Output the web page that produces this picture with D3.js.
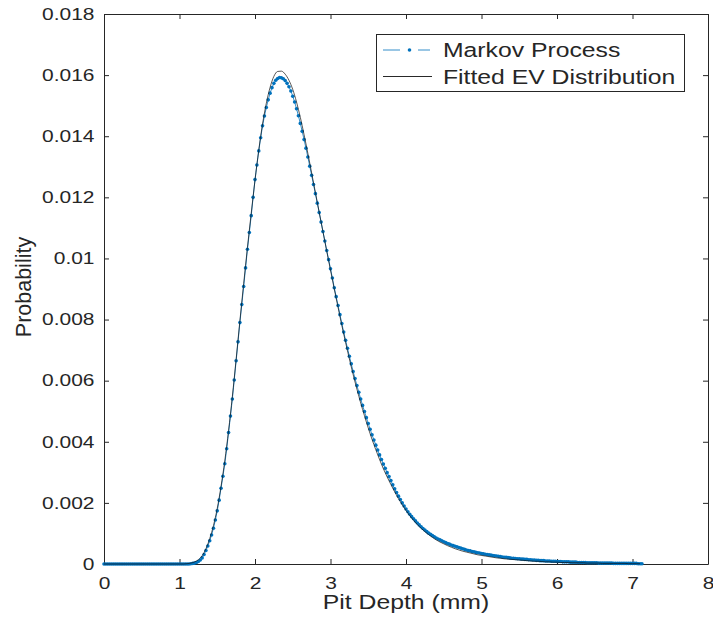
<!DOCTYPE html>
<html>
<head>
<meta charset="utf-8">
<script src="https://cdn.jsdelivr.net/npm/d3@7"></script>
<style>
  body { margin: 0; background: #fff; }
  svg text { font-family: "Liberation Sans", Arial, sans-serif; fill: #262626; }
</style>
</head>
<body>
<svg width="713" height="625"></svg>
<script>
// pit depth grid (mm) for the Markov chain and for the fitted curve
var markovStep = 0.025;
var fitStep = 0.05;

// Markov process probabilities, depth 0 .. 7.125 mm
var markovProb = [
  0, 0, 0, 0, 0, 0, 0, 0, 0, 0, 0, 0, 0, 0, 0, 0, 0, 0, 0, 0, 0, 0,
  0, 0, 0, 0, 0, 0, 0, 0, 0, 0, 0, 0, 0, 0, 0, 0, 0, 0, 0, 0, 0, 0,
  0, 0, 0.00001, 0.00002, 0.00003, 0.00005, 0.00008, 0.00013, 0.00020, 0.00031,
  0.00044, 0.00059, 0.00076, 0.00095, 0.00117, 0.00144, 0.00174, 0.00209, 0.00248, 0.00287,
  0.00328, 0.00377, 0.00430, 0.00484, 0.00540, 0.00602, 0.00665, 0.00727, 0.00790, 0.00849,
  0.00908, 0.00969, 0.01030, 0.01085, 0.01140, 0.01200, 0.01258,
  0.01306, 0.01352, 0.01395, 0.01434, 0.01466, 0.01494, 0.01519, 0.01541, 0.01559, 0.01573,
  0.01583, 0.01589, 0.01592, 0.01591, 0.01588, 0.01582, 0.01573, 0.01562, 0.01548, 0.01531,
  0.01512, 0.01490, 0.01467, 0.01442, 0.01416, 0.01389, 0.01361, 0.01332, 0.01302, 0.01272,
  0.01242, 0.01212, 0.01181, 0.01150, 0.01119, 0.01088, 0.01057, 0.01026, 0.00996, 0.00966,
  0.00936, 0.00904, 0.00875, 0.00846, 0.00816, 0.00787, 0.00759, 0.00732, 0.00706, 0.00680,
  0.00655, 0.00630, 0.00607, 0.00584, 0.00562, 0.00540, 0.00519, 0.00499, 0.00479, 0.00460,
  0.00441, 0.00423, 0.00406, 0.00389, 0.00373, 0.00357, 0.00342, 0.00327, 0.00313, 0.00299,
  0.00286, 0.00273, 0.00259, 0.00246, 0.00234, 0.00222, 0.00211, 0.00200, 0.00190, 0.00180,
  0.00171, 0.00163, 0.00155, 0.00148, 0.00141, 0.00134, 0.00128, 0.00122, 0.00116, 0.00111,
  0.00106, 0.00101, 0.00097, 0.00093, 0.00089, 0.00085, 0.00082, 0.00079, 0.00076, 0.00073,
  0.00070, 0.00067, 0.00065, 0.00062, 0.00060, 0.00058, 0.00056, 0.00054, 0.00052, 0.00050,
  0.00048, 0.00046, 0.00044, 0.00043, 0.00041, 0.00040, 0.00038, 0.00037, 0.00036, 0.00034,
  0.00033, 0.00032, 0.00031, 0.00030, 0.00029, 0.00028, 0.00027, 0.00026, 0.00025, 0.00024,
  0.00023, 0.00022, 0.00022, 0.00021, 0.00020, 0.00019, 0.00019, 0.00018, 0.00017, 0.00017,
  0.00016, 0.00016, 0.00015, 0.00015, 0.00014, 0.00014, 0.00013, 0.00013, 0.00012, 0.00012,
  0.00011, 0.00011, 0.00011, 0.00010, 0.00010, 0.00010, 0.00009, 0.00009, 0.00009, 0.00008,
  0.00008, 0.00008, 0.00007, 0.00007, 0.00007, 0.00007, 0.00006, 0.00006,
  0.00006, 0.00006, 0.00005, 0.00005, 0.00005, 0.00005, 0.00005, 0.00004,
  0.00004, 0.00004, 0.00004, 0.00004, 0.00004, 0.00003, 0.00003, 0.00003,
  0.00003, 0.00003, 0.00003, 0.00003, 0.00003, 0.00002, 0.00002, 0.00002,
  0.00002, 0.00002, 0.00002, 0.00002, 0.00002, 0.00002, 0.00002, 0.00002,
  0.00002, 0.00002, 0.00001, 0.00001, 0.00001
];

// fitted extreme value distribution, depth 0 .. 7.1 mm
var fitProb = [
  0, 0, 0, 0, 0, 0, 0, 0, 0, 0, 0, 0, 0, 0, 0, 0, 0, 0, 0, 0, 0, 0,
  0.00001, 0.00003, 0.00007, 0.00014, 0.00027, 0.00050, 0.00083, 0.00126, 0.00182, 0.00254,
  0.00338, 0.00437, 0.00548, 0.00670, 0.00796, 0.00918, 0.01036, 0.01148, 0.01256,
  0.01355, 0.01440, 0.01508, 0.01560, 0.01596, 0.01612, 0.01613, 0.01603, 0.01583, 0.01553,
  0.01512, 0.01462, 0.01405, 0.01344, 0.01280, 0.01216, 0.01152, 0.01088, 0.01024, 0.00962,
  0.00900, 0.00840, 0.00781, 0.00725, 0.00671, 0.00620, 0.00572, 0.00527, 0.00485, 0.00445,
  0.00408, 0.00374, 0.00342, 0.00312, 0.00285, 0.00260, 0.00236, 0.00214, 0.00194, 0.00175,
  0.00158, 0.00143, 0.00129, 0.00117, 0.00106, 0.00096, 0.00087, 0.00079, 0.00072, 0.00066,
  0.00060, 0.00055, 0.00050, 0.00046, 0.00042, 0.00039, 0.00036, 0.00033, 0.00030, 0.00028,
  0.00026, 0.00024, 0.00022, 0.00020, 0.00019, 0.00017, 0.00016, 0.00015, 0.00014, 0.00013,
  0.00012, 0.00011, 0.00010, 0.00009, 0.00009, 0.00008, 0.00007, 0.00007, 0.00006, 0.00006,
  0.00005, 0.00005, 0.00005, 0.00004, 0.00004, 0.00004, 0.00004, 0.00003, 0.00003, 0.00003,
  0.00003, 0.00002, 0.00002, 0.00002, 0.00002, 0.00002, 0.00002, 0.00002, 0.00001, 0.00001,
  0.00001, 0.00001
];

var xTicks = [0, 1, 2, 3, 4, 5, 6, 7, 8];
var xTickLabels = ["0", "1", "2", "3", "4", "5", "6", "7", "8"];
var yTicks = [0, 0.002, 0.004, 0.006, 0.008, 0.010, 0.012, 0.014, 0.016, 0.018];
var yTickLabels = ["0", "0.002", "0.004", "0.006", "0.008", "0.01", "0.012", "0.014", "0.016", "0.018"];
var seriesNames = ["Markov Process", "Fitted EV Distribution"];

var axisColor = "#262626",
    markovColor = "#0072BD",
    sx = 1.27;                                       // horizontal stretch applied to all text

var svg = d3.select("svg"),
    margin = { top: 14, right: 5, bottom: 61, left: 104 },
    width = +svg.attr("width") - margin.left - margin.right,
    height = +svg.attr("height") - margin.top - margin.bottom,
    g = svg.append("g").attr("transform", "translate(" + margin.left + "," + margin.top + ")");

var x = d3.scaleLinear().domain([0, 8]).range([0, width]);
var y = d3.scaleLinear().domain([0, 0.018]).range([height, 0]);

var markov = markovProb.map(function (p, i) { return { depth: i * markovStep, prob: p }; });
var fitted = fitProb.map(function (p, i) { return { depth: i * fitStep, prob: p }; });

function styleAxis(sel) {
    sel.attr("font-family", null).attr("font-size", null).attr("color", axisColor);
    sel.selectAll("line").attr("stroke", axisColor);
    sel.select(".domain").attr("stroke", axisColor);
}

// bottom axis with labels, ticks pointing inward
var xAxis = g.append("g")
    .attr("transform", "translate(0," + height + ")")
    .call(d3.axisBottom(x).tickValues(xTicks)
        .tickFormat(function (d, i) { return xTickLabels[i]; })
        .tickSize(-5).tickSizeOuter(0).tickPadding(13))
    .call(styleAxis);
xAxis.selectAll("text")
    .style("font-size", "16.5px")
    .attr("transform", "scale(" + sx + ",1)");

// left axis with labels
var yAxis = g.append("g")
    .call(d3.axisLeft(y).tickValues(yTicks)
        .tickFormat(function (d, i) { return yTickLabels[i]; })
        .tickSize(-5).tickSizeOuter(0))
    .call(styleAxis);
yAxis.selectAll("text")
    .style("font-size", "16.5px")
    .attr("x", -9.5 / sx)
    .attr("transform", "scale(" + sx + ",1)");

// top and right axes close the box, ticks only
g.append("g")
    .call(d3.axisTop(x).tickValues(xTicks).tickFormat("").tickSize(-5).tickSizeOuter(0))
    .call(styleAxis);
g.append("g")
    .attr("transform", "translate(" + width + ",0)")
    .call(d3.axisRight(y).tickValues(yTicks).tickFormat("").tickSize(-5).tickSizeOuter(0))
    .call(styleAxis);

var line = d3.line()
    .x(function (d) { return x(d.depth); })
    .y(function (d) { return y(d.prob); });

// Markov process: thin line with dot markers
g.append("path")
    .datum(markov)
    .attr("fill", "none")
    .attr("stroke", markovColor)
    .attr("stroke-width", 0.8)
    .attr("d", line);

g.append("g")
    .selectAll("circle")
    .data(markov)
    .enter().append("circle")
    .attr("cx", function (d) { return x(d.depth); })
    .attr("cy", function (d) { return y(d.prob); })
    .attr("r", 1.8)
    .attr("fill", markovColor);

// fitted EV curve on top
g.append("path")
    .datum(fitted)
    .attr("fill", "none")
    .attr("stroke", "#111")
    .attr("stroke-width", 0.7)
    .attr("stroke-linejoin", "round")
    .attr("d", line.curve(d3.curveMonotoneX));

// legend
var legend = svg.append("g");
legend.append("rect")
    .attr("x", 376.5).attr("y", 34.5)
    .attr("width", 308).attr("height", 57)
    .attr("fill", "#fff")
    .attr("stroke", axisColor)
    .attr("stroke-width", 1);

legend.append("line")
    .attr("x1", 383).attr("x2", 400).attr("y1", 50).attr("y2", 50)
    .attr("stroke", markovColor).attr("stroke-width", 0.8);
legend.append("line")
    .attr("x1", 418).attr("x2", 430).attr("y1", 50).attr("y2", 50)
    .attr("stroke", markovColor).attr("stroke-width", 0.8);
legend.append("circle")
    .attr("cx", 409.5).attr("cy", 50).attr("r", 1.8)
    .attr("fill", markovColor);
legend.append("line")
    .attr("x1", 383).attr("x2", 432).attr("y1", 76.5).attr("y2", 76.5)
    .attr("stroke", "#111").attr("stroke-width", 0.9);

legend.selectAll("text.entry")
    .data(seriesNames)
    .enter().append("text")
    .attr("class", "entry")
    .style("font-size", "19.5px")
    .attr("transform", function (d, i) {
        return "translate(443," + (57.3 + i * 26.7) + ") scale(" + sx + ",1)";
    })
    .text(function (d) { return d; });

// axis titles
svg.append("text")
    .style("font-size", "19.5px")
    .attr("text-anchor", "middle")
    .attr("transform", "translate(" + (margin.left + width / 2) + ",609) scale(" + sx + ",1)")
    .text("Pit Depth (mm)");

svg.append("text")
    .style("font-size", "21.5px")
    .attr("text-anchor", "middle")
    .attr("transform", "translate(31,287) scale(1.05,1) rotate(-90)")
    .text("Probability");
</script>
</body>
</html>
